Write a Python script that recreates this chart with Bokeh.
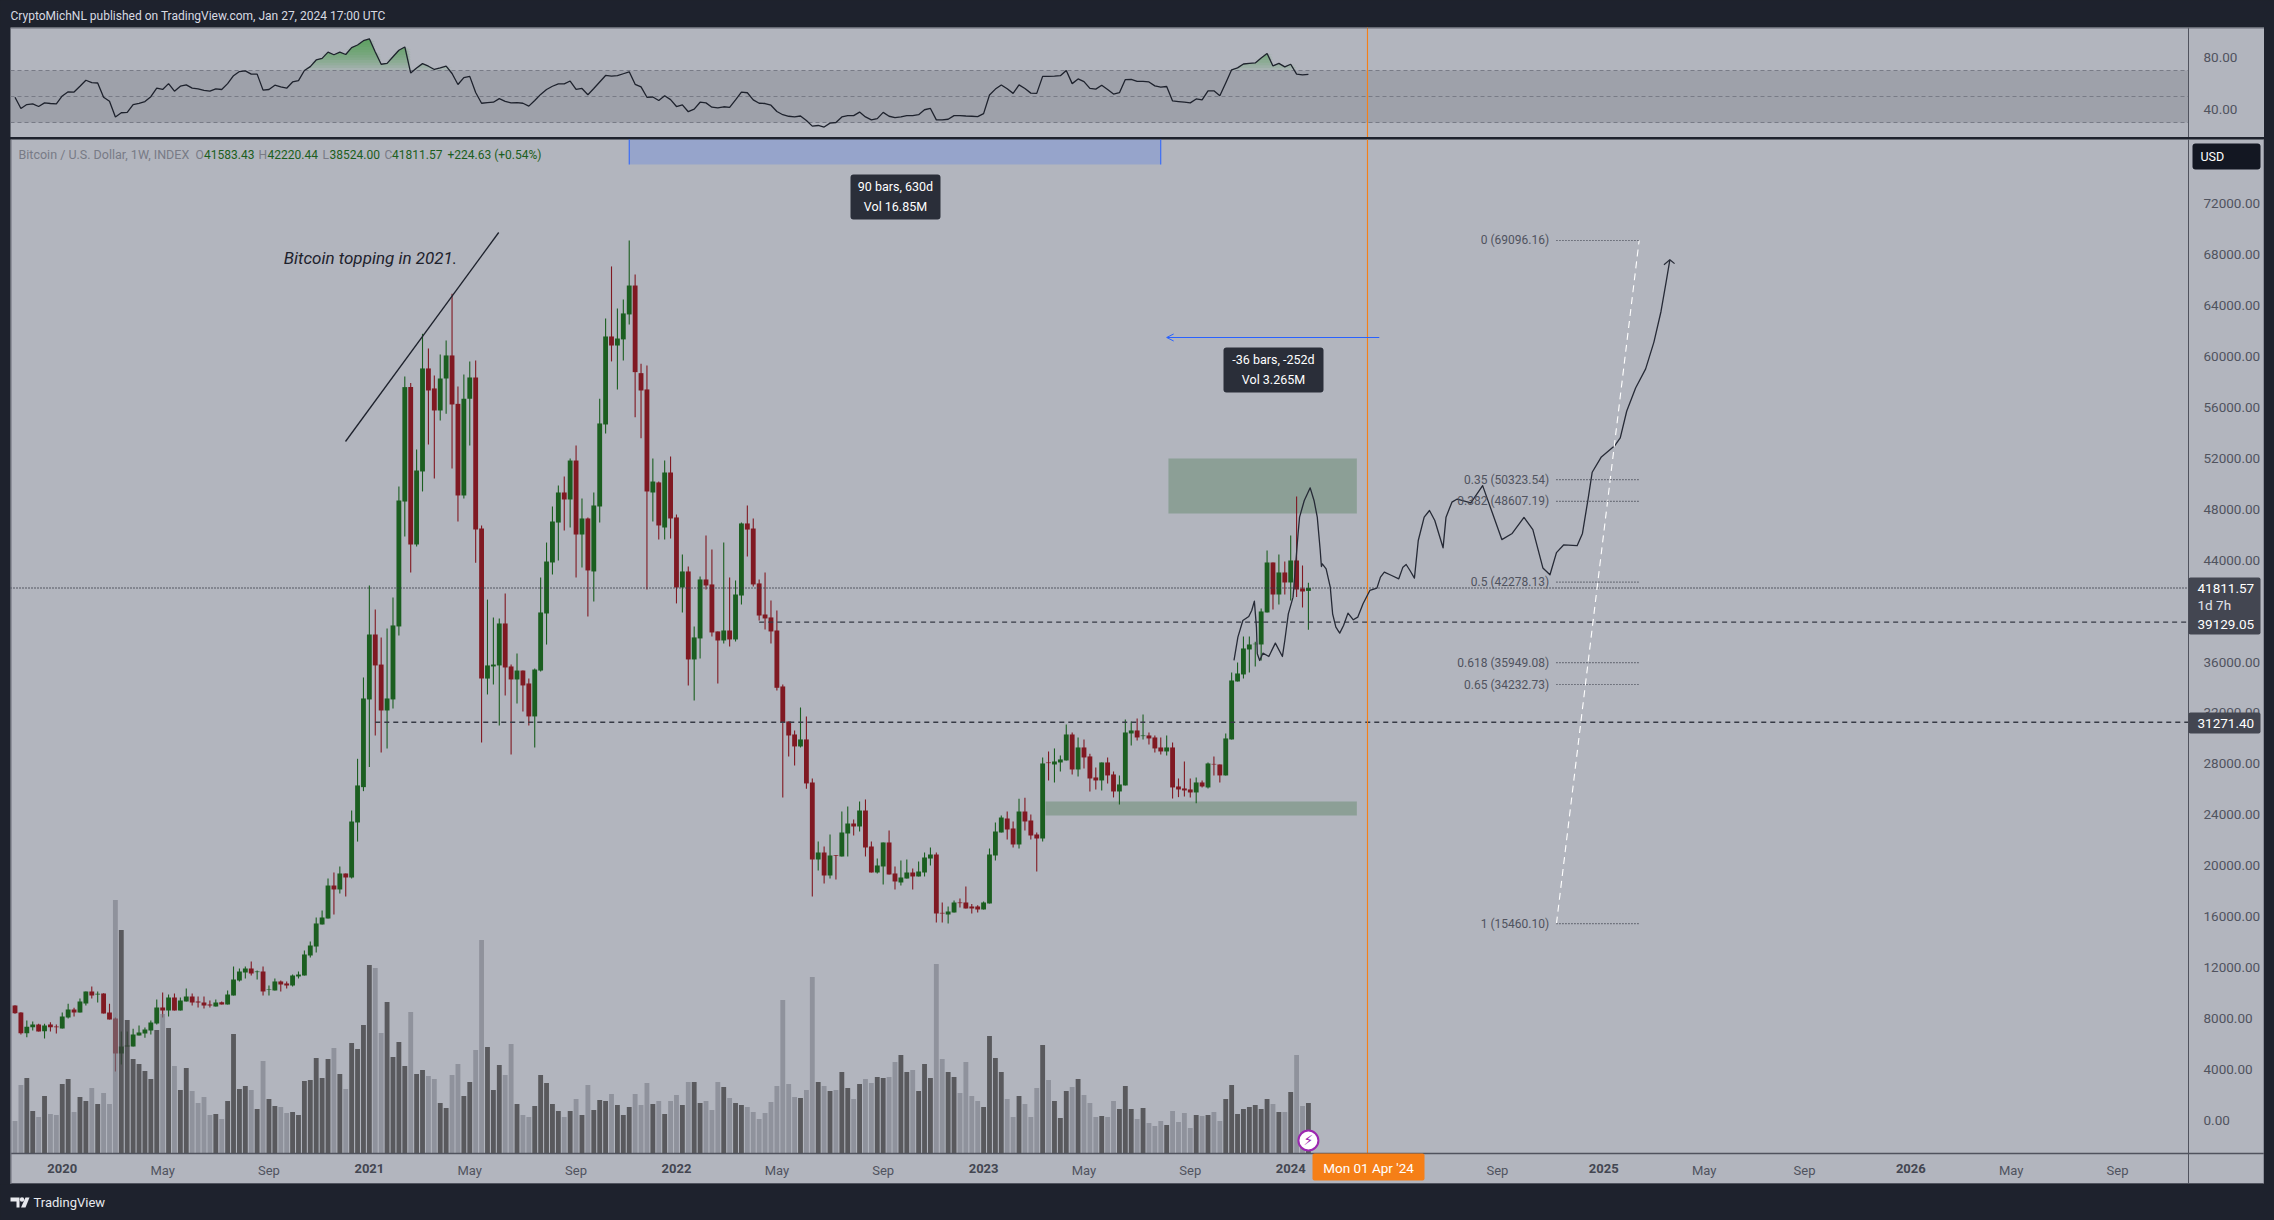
import numpy as np
import pandas as pd
from bokeh.embed import file_html
from bokeh.resources import INLINE
from bokeh.layouts import column
from bokeh.plotting import figure
from bokeh.core.properties import value
from bokeh.models import (Range1d, FixedTicker, NumeralTickFormatter, Label, BoxAnnotation,
                          ColumnDataSource, Arrow, OpenHead)

# ---------------------- data ----------------------
first_week = "2019-11-11"
opens = [9031,8480,6860,7330,7540,7000,7540,7380,7226,8090,
8718,8480,9190,10130,9900,9970,8480,8010,5260,5810,
5810,6680,6830,7070,7620,8875,8640,9660,8640,9345,
9740,9345,9270,9110,8950,9290,9110,9815,10995,11625,
11936,11650,11700,10250,10210,10916,10760,10600,11310,11385,
12955,13660,15390,15860,18450,18140,19395,19080,23400,26175,
33060,38160,35800,32195,33060,38790,48600,57583,45228,50960,
59050,57480,55750,58260,60070,56270,49075,56670,58340,46480,
34700,35650,35730,39025,35650,34630,35330,34315,31725,35330,
39810,43815,46950,49310,48760,51820,46010,47270,43110,48210,
54650,61560,60850,61330,63290,65560,58680,57400,49310,50100,
46560,50880,47350,41850,43110,36200,37850,42480,42090,38400,
37690,38475,37770,41220,46880,46480,42170,39730,39500,38475,
34080,31330,30310,29370,29920,26540,20494,21043,19237,20830,
20730,22535,23320,23085,24340,21515,19473,19945,21830,19395,
18690,19000,19473,19160,19473,20570,20886,16306,16175,16333,
17118,17118,16804,16804,16570,17040,20808,22614,23713,22928,
21672,24262,23556,22457,22142,28113,27955,28113,28270,30310,
27562,29290,28585,26935,26700,28113,27170,25835,26307,30389,
30625,30180,30232,30075,29290,28976,29290,26228,26072,25993,
25757,26543,26150,28000,27955,27093,29920,34472,35022,36984,
37400,37376,39890,43815,41300,43030,42244,43972,41775,41583.43]
closes = [8430,6860,7356,7540,6990,7460,7330,7330,8168,8718,
8480,9345,10130,9815,9950,8400,7935,5265,5810,5890,
6755,6910,7150,7700,8875,8640,9660,8640,9425,9740,
9270,9270,9030,9030,9270,9110,9895,11070,11700,11936,
11545,11700,10130,10290,10916,10680,10600,11385,11460,13035,
13740,15470,15940,18450,18140,19395,19080,23475,26307,33137,
38160,35730,32195,33137,38870,48680,57583,45228,51037,59050,
57320,55750,58260,60070,56220,49075,56670,58340,46400,34700,
35730,35800,39025,35570,34630,35330,34160,31725,35410,39890,
43890,47033,49310,48760,51820,46010,47270,43190,48290,54730,
61560,60850,61400,63370,65560,58760,57320,49390,50170,46720,
50880,47270,41850,43110,36200,37930,42480,42010,38320,37690,
38475,37770,41300,46880,46400,42090,39650,39420,38400,33975,
31255,30230,29370,29920,26465,20494,21043,19237,20808,20780,
22614,23320,23085,24340,21436,19473,20023,21830,19316,18767,
19080,19473,19160,19552,20650,20886,16254,16254,16410,17118,
17065,16647,16647,16570,17118,20886,22692,23790,22849,21672,
24262,23478,22378,22142,28034,28060,28190,28350,30310,27562,
29290,28505,26855,26700,28113,27093,25835,26386,30467,30625,
30075,30232,29998,29213,28976,29290,26150,25993,25915,25757,
26543,26228,28034,27955,27093,29998,34550,35100,37063,37376,
37430,39968,43815,41300,43030,42244,43972,41695,41537,41811.57]
highs = [9050,8500,7850,7775,7590,7590,7720,7540,8480,9160,
8850,9580,10130,10520,10130,10000,9160,8090,6990,6990,
7200,7460,7300,7850,9500,10050,9895,9975,9660,10370,
9975,9740,9740,9425,9500,9345,10210,12090,11936,12090,
12485,11780,12090,10600,11150,11000,10916,11460,11700,13350,
14056,15940,16490,19000,19470,19945,19395,24340,28400,34785,
42000,40125,37925,38630,41065,49780,58420,57900,52686,61770,
60620,58500,60150,61250,64910,57635,58580,59600,59675,46720,
40900,39500,39420,41380,35800,36670,35330,34710,35490,42640,
45380,48210,49860,50570,51980,53000,48840,47350,49310,56670,
62970,67060,63760,64470,69100,66430,59415,59280,51980,50170,
51820,52140,47580,44440,43500,38790,42720,45930,44835,38400,
45380,42640,42400,46950,48290,47270,42480,43030,40830,40045,
34235,31330,30625,32430,31725,26856,21905,21515,22457,20850,
24260,24655,23635,25047,25207,21905,20570,21830,22770,19945,
20415,20490,19787,20335,21043,21436,21043,17118,16804,17275,
17432,18374,16990,16900,17200,21358,23400,23950,24260,23478,
25260,25340,24027,22614,28500,28976,29213,28663,31097,30467,
30075,29920,28790,27720,28113,28505,27405,27080,31490,31330,
31568,31881,30467,30232,30075,30232,29684,26856,28190,26856,
26935,26700,28113,28585,27955,30389,35180,35960,38005,38005,
37600,40203,44757,43815,44443,43893,45934,49000,43580,42220.44]
lows = [8380,6760,6545,7070,6990,6440,6990,6830,7226,8010,
8170,8480,9030,9580,9270,8400,7935,3850,4400,5810,
5810,6680,6490,6755,7540,8090,8170,8640,8640,9345,
9030,8875,8800,8875,8950,9110,9110,9815,10916,11150,
11385,11070,9815,9815,10210,10130,10370,10520,11150,11385,
12800,13190,15390,15860,16175,17825,17590,19000,21900,25860,
27750,30230,28900,29210,32350,38085,45855,43030,45070,49390,
53080,50410,54960,55500,51200,47030,48840,53000,43800,29680,
33450,34240,31020,33370,28740,32745,32110,31020,29290,35250,
37370,42870,43970,46330,46560,42640,43420,39575,40750,46950,
53940,59600,57400,59675,62500,55225,53576,41700,47030,45620,
45620,45700,40600,39890,34160,32980,36280,41700,38000,34315,
37455,37220,37610,40520,44285,41930,39260,38555,37455,33765,
25365,28585,27880,29290,26050,17590,19630,18610,19000,18923,
20730,20730,22380,22690,20730,19473,19395,18530,19316,18140,
18452,19000,18140,19160,19160,20023,15548,15548,15470,16333,
16725,16647,16254,16333,16570,17040,20415,22614,22065,21436,
21358,22770,22065,19552,21905,26700,26540,27405,28270,27170,
27013,27640,25835,25993,25915,26465,25365,24812,26307,29448,
29840,29920,29526,28898,28740,28663,25285,25390,25443,25365,
24917,26150,26072,27093,26540,27093,29920,34472,34707,35180,
35650,36120,39890,40125,40516,41300,40830,41100,40280,38524]
volumes = [65,137,151,85,73,115,79,77,139,149,
83,113,105,131,99,121,99,507,447,267,
189,179,165,149,247,279,251,175,127,171,
125,101,113,77,79,69,105,239,129,135,
127,89,185,109,95,93,81,83,77,145,
147,191,151,189,211,159,129,221,209,257,
377,371,241,303,193,223,175,283,159,167,
155,149,101,91,157,179,115,143,207,427,
213,127,177,157,219,99,77,73,95,157,
141,99,85,73,85,109,77,137,87,107,
105,119,97,77,93,119,97,141,99,105,
79,105,117,97,143,143,101,105,87,143,
133,111,101,97,93,83,69,81,103,135,
307,139,113,111,127,353,143,135,125,127,
163,131,109,139,149,141,153,151,153,183,
197,163,167,125,179,151,379,189,163,153,
121,183,115,105,93,235,191,163,109,73,
115,99,73,131,217,147,105,71,125,133,
149,117,101,73,75,73,105,89,135,89,
69,91,61,55,65,57,85,63,81,51,
77,75,77,83,65,109,137,79,89,93,
97,89,109,99,83,83,123,197,95,101]
rsi_values = [49.4,40.8,43.8,44.3,42.3,45.1,44.6,44.3,50.4,53.6,
53.4,57.9,62.5,60.7,60.4,49.4,46.3,34.3,37.5,37.8,
43.8,44.8,46.1,49.9,56.4,55.4,59.9,54.1,57.9,58.9,
56.4,55.9,54.7,54.1,55.9,55.4,59.9,66.0,69.2,69.7,
67.2,67.2,54.9,55.4,58.7,57.4,56.4,61.2,62.2,70.0,
73.0,78.1,79.3,84.1,82.1,84.1,82.3,87.6,89.6,92.9,
94.4,84.3,74.8,75.5,80.6,85.6,88.1,68.0,72.0,75.3,
73.3,70.8,72.0,73.3,67.7,59.2,64.5,65.5,53.1,44.8,
45.3,45.6,48.4,46.3,45.1,45.3,44.8,42.6,46.9,51.6,
55.4,57.9,59.7,59.7,61.9,55.4,56.2,51.4,56.2,61.2,
66.2,65.7,66.0,67.5,69.0,59.4,57.4,49.4,49.6,46.9,
50.6,47.6,42.3,43.6,38.3,40.3,45.6,45.1,41.8,41.3,
42.1,41.6,47.4,53.4,52.9,47.4,44.8,44.6,43.3,38.5,
36.0,34.8,34.3,35.0,31.5,27.2,27.7,26.5,29.5,30.0,
34.3,35.3,35.3,38.0,34.3,32.0,33.0,37.8,34.8,33.8,
34.3,35.3,35.3,36.0,39.8,40.8,32.0,32.0,32.5,35.3,
35.3,35.0,34.8,34.5,36.8,51.1,55.7,58.9,55.9,52.4,
58.9,56.2,52.6,52.4,65.5,65.5,65.7,66.0,70.0,59.9,
63.5,61.4,56.2,55.7,58.7,55.4,51.9,52.9,63.0,63.2,
61.7,61.7,61.2,58.2,57.2,57.7,46.6,46.1,45.6,45.1,
48.1,47.4,54.4,54.4,50.6,60.4,70.5,72.0,75.0,75.5,
75.8,79.6,83.1,73.5,75.5,72.8,74.8,67.2,66.7,67.0]

path_bars = [206.4,207.06,207.9,208.9,209.4,209.85,210.2,210.35,210.75,211.3,212.3,213.4,214.6,215.0,215.6,216.4,217.25,217.5,218.3,219.3,219.95,220.5,221.0,221.2,221.35,222.0,222.7,223.1,223.65,224.3,224.95,225.7,226.6,227.35,228.25,229.4,230.6,231.2,231.85,233.1,234.3,235.0,235.55,236.2,236.95,237.6,238.6,239.5,240.4,241.8,242.3,243.3,244.2,246.5,248.5,250.0,251.75,253.5,255.5,257.0,258.7,259.9,261.0,262.2,264.5,265.4,266.35,267.05,268.6,270.9,271.8,272.9,274.4,276.1,277.5,278.7,279.6,280.2]
path_price = [36120,37953,39260,39575,40046,40780,38737,36644,36120,36696,36435,37480,36435,37690,39784,41093,46065,47374,48682,49677,48682,47374,44757,43500,43710,43317,41878,39784,38737,38266,38868,39836,39313,39522,40569,41616,41800,42663,43056,42794,42532,43448,43657,43186,42585,45542,47374,47897,47112,44966,47374,48551,48797,48497,49849,47895,45612,46092,47354,46392,43388,42847,44590,45191,45131,46092,48797,50900,52103,53004,53605,55708,57512,59014,61118,63522,65925,67578]
arrow_bars = [279.2,280.2,281.0]
arrow_price = [67188,67578,67278]

fib_ratio = ["0","0.35","0.382","0.5","0.618","0.65","1"]
fib_price = [69096.16,50323.54,48607.19,42278.13,35949.08,34232.73,15460.10]
fib_bars = [261,275]

trend_bars = [55.96,81.9]
trend_price = [53314,69724]

green_zone_upper = dict(bars=(195.3,227.2), price=(47660,51979))
green_zone_lower = dict(bars=(174.5,227.2), price=(23948,25047))
date_range = dict(bars=(104,194), price=75063)
bars_arrow = dict(bars=(231,195), price=61480)
support_upper = dict(bar=126, price=39129.05)
support_lower = dict(bar=61, price=31271.40)
last_price = 41811.57
marker_date = "2024-04-01"

price_ticks = list(range(0,76000,4000))
rsi_ticks = [40,80]
rsi_bands = [70,50,30]
month_ticks = {"2020-05-04":"May","2020-09-07":"Sep","2021-05-03":"May","2021-09-06":"Sep",
               "2022-05-02":"May","2022-09-05":"Sep","2023-05-01":"May","2023-09-04":"Sep",
               "2024-09-02":"Sep","2025-05-05":"May","2025-09-01":"Sep","2026-05-04":"May","2026-09-07":"Sep"}
year_ticks = {"2020-01-06":"2020","2021-01-04":"2021","2022-01-03":"2022","2023-01-02":"2023",
              "2024-01-01":"2024","2025-01-06":"2025","2026-01-05":"2026"}

# ---------------------- styles ----------------------
FONT = "Roboto"
PANEL = "#b2b5be"
DARK = "#1e222d"
TXT = "#50535e"
UP = "#1b5e20"
DOWN = "#801922"
LINE = "#363a45"

WEEK = 7*86400000
def ms(s): return int(pd.Timestamp(s).timestamp()*1000)
T0 = ms(first_week)
def bx(i): return T0 + np.asarray(i, dtype=float)*WEEK
n = len(opens)
assert all(len(a)==n for a in (closes,highs,lows,volumes,rsi_values))
t = bx(np.arange(n))

BAR_PX = 5.906
x_start = T0 - (14.5-10)/BAR_PX*WEEK
x_axis = T0 + (2188-14.5)/BAR_PX*WEEK       # where the price scale begins
x_end = T0 + (2264-14.5)/BAR_PX*WEEK        # right edge of the panel
PX_PER = 0.012736
y_floor = -33/PX_PER                        # price at the time-axis line
x_range = Range1d(x_start, x_end)
AX_STANDOFF = -67

def style_price_axis(a, ticks):
    a.ticker=FixedTicker(ticks=ticks)
    a.formatter=NumeralTickFormatter(format="0.00")
    a.major_label_text_font=FONT; a.major_label_text_font_size="13.5px"; a.major_label_text_color=TXT
    a.major_tick_line_color=None; a.minor_tick_line_color=None; a.axis_line_color=None
    a.major_label_standoff=AX_STANDOFF

# ---------------------- header ----------------------
hdr = figure(width=2274, height=27, x_range=(0,2274), y_range=(27,0), output_backend="svg",
             toolbar_location=None, min_border=0, background_fill_color=DARK, border_fill_color=DARK,
             outline_line_color=None)
hdr.axis.visible=False; hdr.grid.visible=False
hdr.text(x=[10],y=[15],text=["CryptoMichNL published on TradingView.com, Jan 27, 2024 17:00 UTC"],
         text_color="#d8dae2",text_font=value(FONT),text_font_size="12px",text_baseline="middle")

# ---------------------- RSI pane ----------------------
rsi = figure(width=2254, height=110, x_range=x_range, y_range=Range1d(18.46,103.08), output_backend="svg",
             toolbar_location=None, min_border=0, y_axis_location="right",
             background_fill_color=PANEL, border_fill_color=PANEL, outline_line_color=None, margin=(0,10,0,10))
rsi.xaxis.visible=False; rsi.grid.visible=False
style_price_axis(rsi.yaxis[0], rsi_ticks)
rsi.quad(left=x_start,right=x_axis,bottom=rsi_bands[2],top=rsi_bands[0],fill_color="#787b86",fill_alpha=0.35,line_color=None)
r = np.array(rsi_values)
for L in np.arange(70,94,2.0):
    rsi.varea(x=t,y1=np.full(n,L),y2=np.maximum(r,L),fill_color="#43a047",fill_alpha=0.10)
for b in rsi_bands:
    rsi.line([x_start,x_axis],[b,b],line_color="#787b86",line_dash="4 3",line_width=1)
rsi.line(t,r,line_color="#1e222d",line_width=1.3)
rsi.segment(x0=[ms(marker_date)],x1=[ms(marker_date)],y0=[0],y1=[120],line_color="#f57f17",line_width=1.1)
rsi.segment(x0=[x_axis],x1=[x_axis],y0=[0],y1=[120],line_color=TXT,line_width=1)
rsi.add_layout(BoxAnnotation(left=0,right=2254,top=110,bottom=109,left_units="screen",right_units="screen",
                             top_units="screen",bottom_units="screen",fill_color="#6a6d78",fill_alpha=1,line_color=None))

# ---------------------- main pane ----------------------
main = figure(width=2254, height=1045, x_range=x_range,
              y_range=Range1d(-64/PX_PER,(1120-139)/PX_PER), output_backend="svg", toolbar_location=None,
              min_border=0, y_axis_location="right",
              background_fill_color=PANEL, border_fill_color=PANEL, outline_line_color=None, margin=(2,10,0,10))
main.extra_y_ranges={"vol":Range1d(-62,2028)}
main.grid.visible=False
style_price_axis(main.yaxis[0], price_ticks)
xa=main.xaxis[0]
xa.ticker=FixedTicker(ticks=[ms(k) for k in month_ticks])
xa.major_label_overrides={ms(k):v for k,v in month_ticks.items()}
xa.major_label_text_font=FONT; xa.major_label_text_font_size="13px"; xa.major_label_text_color=TXT
xa.major_tick_line_color=None; xa.minor_tick_line_color=None; xa.axis_line_color=None
xa.major_label_standoff=-28

def zone(z):
    main.quad(left=bx(z["bars"][0]),right=bx(z["bars"][1]),bottom=z["price"][0],top=z["price"][1],
              fill_color=UP,fill_alpha=0.25,line_color=None)
zone(green_zone_upper); zone(green_zone_lower)

o=np.array(opens); c=np.array(closes)
up=c>=o
src=ColumnDataSource(dict(x=t,o=o,c=c,h=highs,l=lows,v=volumes,
    col=[UP if u else DOWN for u in up],
    vcol=["#3c3c3e" if u else "#787b86" for u in up],
    valpha=[0.76 if u else 0.6 for u in up]))
main.segment(x0="x",x1="x",y0="l",y1="h",line_color="col",line_width=1.1,source=src)
main.vbar(x="x",width=WEEK*0.82,top="o",bottom="c",fill_color="col",line_color=None,source=src)
main.vbar(x="x",width=WEEK*0.82,top="v",bottom=0,y_range_name="vol",fill_color="vcol",fill_alpha="valpha",line_color=None,source=src)

main.line([x_start,x_axis],[last_price,last_price],line_color=LINE,line_dash="1 2",line_width=1.4)
main.line([bx(support_upper["bar"]),x_axis],[support_upper["price"]]*2,line_color=LINE,line_dash="5 4",line_width=1.3)
main.line([bx(support_lower["bar"]),x_axis],[support_lower["price"]]*2,line_color=LINE,line_dash="5 4",line_width=1.3)
main.segment(x0=[ms(marker_date)],x1=[ms(marker_date)],y0=[y_floor],y1=[80000],line_color="#f57f17",line_width=1.1)

dr=date_range
main.quad(left=bx(dr["bars"][0]),right=bx(dr["bars"][1]),bottom=dr["price"],top=80000,fill_color="#2962ff",fill_alpha=0.2,line_color=None)
main.segment(x0=bx(list(dr["bars"])),x1=bx(list(dr["bars"])),y0=dr["price"],y1=80000,line_color="#2962ff",line_width=1)
main.add_layout(Arrow(end=OpenHead(size=7,line_color="#2962ff",line_width=1),x_start=float(bx(bars_arrow["bars"][0])),y_start=bars_arrow["price"],
                      x_end=float(bx(bars_arrow["bars"][1])),y_end=bars_arrow["price"],line_color="#2962ff",line_width=1.2))
main.line(bx(trend_bars),trend_price,line_color="#1e222d",line_width=1.3)
main.line(bx(path_bars),path_price,line_color="#262a36",line_width=1.3,line_join="round")
main.line(bx(arrow_bars),arrow_price,line_color="#262a36",line_width=1.2)
main.line(bx(fib_bars),[fib_price[-1],fib_price[0]],line_color="#ffffff",line_dash="7 5",line_width=1.1)
for rt,pr in zip(fib_ratio,fib_price):
    main.line(bx(fib_bars),[pr,pr],line_color=LINE,line_dash="1 2",line_width=1.2)
main.text(x=bx(np.full(len(fib_price),259.75)),y=fib_price,text=[f"{a} ({b:.2f})" for a,b in zip(fib_ratio,fib_price)],
          text_color="#50535e",text_font=value(FONT),text_font_size="12px",text_align="right",text_baseline="middle")
main.text(x=bx([45.5]),y=[67760],text=["Bitcoin topping in 2021."],text_color="#1e222d",text_font=value(FONT),
          text_font_style="italic",text_font_size="17px",text_baseline="middle")
main.scatter(x=[t[-1]],y=[-1570],size=20,fill_color="#ffffff",line_color="#9c27b0",line_width=2)
main.text(x=[t[-1]],y=[-1570],text=["\u26a1"],text_color="#9c27b0",text_font=value("DejaVu Sans"),text_font_size="14px",
          text_align="center",text_baseline="middle")

# scale separators
main.segment(x0=[x_axis],x1=[x_axis],y0=[-64/PX_PER],y1=[80000],line_color=TXT,line_width=1)
main.segment(x0=[x_start],x1=[x_end],y0=[y_floor],y1=[y_floor],line_color=TXT,line_width=1.5)

def sx(px): return px-10
def sy(py): return 1184-py
def box(l,r,top,bot,color,radius=0):
    main.add_layout(BoxAnnotation(left=sx(l),right=sx(r),top=sy(top),bottom=sy(bot),left_units="screen",right_units="screen",
        top_units="screen",bottom_units="screen",fill_color=color,fill_alpha=1,line_color=None,border_radius=radius))
def lab(px,py,text,color,size=13,style="normal",align="left"):
    main.add_layout(Label(x=sx(px),y=sy(py),x_units="screen",y_units="screen",text=text,text_color=color,text_font=FONT,
        text_font_size=f"{size}px",text_font_style=style,text_align=align,text_baseline="middle"))

box(10,2264,1182.5,1184,"#50535e")
box(10,11,139,1184,"#6a6d78")
box(2263,2264,139,1184,"#6a6d78")

lab(18,154,"Bitcoin / U.S. Dollar, 1W, INDEX","#787b86",12.5)
for px,s in [(195,"O"),(258,"H"),(322,"L"),(384,"C")]:
    lab(px,154,s,"#787b86",12)
for px,s in [(203.5,"41583.43"),(267,"42220.44"),(329,"38524.00"),(391.5,"41811.57"),(447,"+224.63 (+0.54%)")]:
    lab(px,154,s,UP,12)

for k,v in year_ticks.items():
    main.add_layout(Label(x=ms(k),y=sy(1168),y_units="screen",text=v,text_color="#434651",text_font=FONT,text_font_size="13px",
                          text_font_style="bold",text_align="center",text_baseline="middle"))
box(1312,1424,1153,1180,"#f57f17",2)
lab(1368,1167,"Mon 01 Apr '24","#ffffff",13.5,"normal","center")
box(2192,2260,143,169,"#131722",3)
lab(2200,156,"USD","#ffffff",12.5)
box(2188,2260,577,634,"#434651",2)
lab(2197,588,"41811.57","#ffffff",13.5)
lab(2197,604.5,"1d 7h","#e0e3eb",13.5)
lab(2197,623.5,"39129.05","#ffffff",13.5)
box(2188,2260,712,733,"#434651",2)
lab(2197,722.5,"31271.40","#ffffff",13.5)
box(850,940,174,219,"#2a2e39",3)
lab(895,186,"90 bars, 630d","#ffffff",12.5,"normal","center")
lab(895,206,"Vol 16.85M","#ffffff",12.5,"normal","center")
box(1223,1323,347,392,"#2a2e39",3)
lab(1273,359,"-36 bars, -252d","#ffffff",12.5,"normal","center")
lab(1273,379,"Vol 3.265M","#ffffff",12.5,"normal","center")

# ---------------------- footer ----------------------
ftr = figure(width=2274, height=36, x_range=(0,2274), y_range=(1220,1184), output_backend="svg",
             toolbar_location=None, min_border=0, background_fill_color=DARK, border_fill_color=DARK,
             outline_line_color=None)
ftr.axis.visible=False; ftr.grid.visible=False
ftr.patch([10,19,19,16,16,14,14,10],[1197,1197,1207,1207,1201,1201,1201,1201],fill_color="#e8e9ee",line_color=None)
ftr.scatter(x=[21.5],y=[1199],size=4.5,fill_color="#e8e9ee",line_color=None)
ftr.patch([25,29,25,20.5],[1197,1197,1207,1207],fill_color="#e8e9ee",line_color=None)
ftr.text(x=[33],y=[1202],text=["TradingView"],text_color="#e8e9ee",text_font=value(FONT),text_font_size="13px",text_baseline="middle")

page = column(hdr,rsi,main,ftr,spacing=0,styles={"background-color":DARK})
open("out.html","w").write(file_html(page, INLINE, title="BTC weekly"))
